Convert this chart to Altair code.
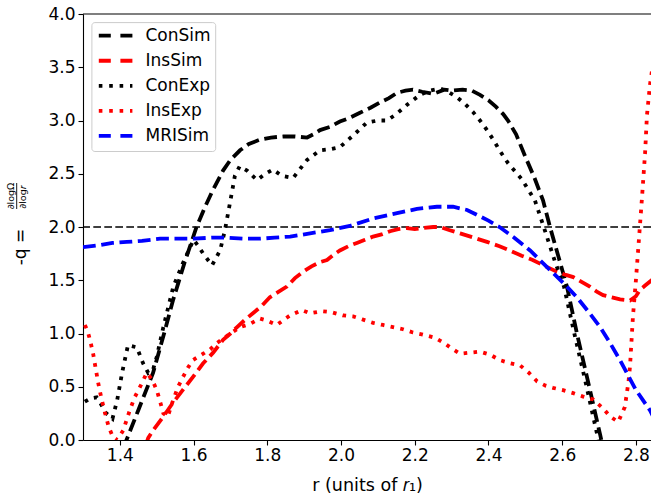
import altair as alt
import pandas as pd

# ---- data ----
series_names = ["ConSim", "InsSim", "ConExp", "InsExp", "MRISim"]
series_colors = ["black", "red", "black", "red", "blue"]

consim = [(1.41,-0.08),(1.418,0.0),(1.45,0.28),(1.49,0.63),(1.52,1.0),(1.544,1.31),(1.575,1.66),
          (1.608,2.0),(1.63,2.18),(1.65,2.33),(1.68,2.53),(1.70,2.63),(1.726,2.72),(1.75,2.78),
          (1.78,2.82),(1.81,2.84),(1.843,2.85),(1.875,2.85),(1.908,2.84),(1.925,2.87),(1.943,2.91),
          (1.97,2.94),(1.997,2.99),(2.02,3.02),(2.05,3.07),(2.08,3.12),(2.106,3.17),(2.13,3.21),
          (2.152,3.26),(2.175,3.28),(2.195,3.29),(2.22,3.27),(2.25,3.25),(2.28,3.29),(2.30,3.28),
          (2.33,3.29),(2.355,3.28),(2.377,3.24),(2.40,3.19),(2.42,3.13),(2.44,3.06),(2.453,3.0),
          (2.475,2.87),(2.50,2.66),(2.525,2.46),(2.548,2.25),(2.567,2.0),(2.59,1.72),(2.613,1.44),
          (2.64,1.0),(2.67,0.55),(2.703,0.05),(2.71,-0.06)]

inssim = [(1.47,-0.05),(1.477,0.02),(1.49,0.09),(1.518,0.22),(1.544,0.35),(1.571,0.47),(1.598,0.59),
          (1.626,0.72),(1.653,0.82),(1.68,0.94),(1.70,1.0),(1.718,1.06),(1.74,1.13),(1.761,1.19),
          (1.785,1.26),(1.807,1.34),(1.83,1.39),(1.853,1.44),(1.875,1.52),(1.897,1.58),(1.92,1.63),
          (1.943,1.67),(1.962,1.69),(1.98,1.74),(1.997,1.78),(2.02,1.82),(2.043,1.85),(2.065,1.88),
          (2.087,1.91),(2.11,1.93),(2.133,1.96),(2.155,1.98),(2.179,1.99),(2.2,1.98),(2.223,1.99),
          (2.25,2.0),(2.269,2.0),(2.295,1.97),(2.323,1.94),(2.36,1.9),(2.396,1.86),(2.43,1.82),
          (2.458,1.78),(2.49,1.73),(2.52,1.69),(2.555,1.63),(2.586,1.58),(2.61,1.55),(2.63,1.53),
          (2.655,1.48),(2.675,1.44),(2.695,1.39),(2.711,1.36),(2.735,1.34),(2.757,1.32),(2.784,1.31),
          (2.80,1.35),(2.811,1.41),(2.825,1.45),(2.85,1.52)]

conexp = [(1.305,0.36),(1.32,0.39),(1.337,0.40),(1.35,0.33),(1.36,0.26),(1.38,0.20),(1.393,0.38),
          (1.406,0.63),(1.422,0.89),(1.446,0.87),(1.463,0.72),(1.477,0.63),(1.49,0.66),(1.50,0.78),
          (1.518,1.06),(1.545,1.44),(1.571,1.66),(1.60,1.88),(1.613,1.82),(1.626,1.75),(1.65,1.64),
          (1.672,1.78),(1.685,1.97),(1.70,2.25),(1.712,2.48),(1.725,2.57),(1.745,2.53),(1.772,2.44),
          (1.795,2.50),(1.815,2.54),(1.84,2.48),(1.87,2.46),(1.89,2.55),(1.908,2.63),(1.943,2.72),
          (1.97,2.73),(1.997,2.75),(2.033,2.86),(2.07,2.98),(2.1,3.0),(2.125,3.0),(2.15,3.06),
          (2.18,3.15),(2.214,3.24),(2.24,3.28),(2.27,3.30),(2.29,3.27),(2.314,3.22),(2.335,3.16),
          (2.358,3.08),(2.377,3.0),(2.396,2.91),(2.413,2.82),(2.43,2.72),(2.453,2.60),(2.49,2.45),
          (2.526,2.25),(2.55,2.0),(2.58,1.68),(2.605,1.44),(2.633,1.0),(2.663,0.55),(2.695,0.05),
          (2.70,-0.03)]

insexp = [(1.305,1.08),(1.312,1.03),(1.319,0.94),(1.327,0.82),(1.334,0.68),(1.341,0.54),(1.35,0.39),
          (1.36,0.25),(1.37,0.12),(1.381,0.03),(1.393,0.0),(1.409,0.09),(1.427,0.28),(1.44,0.40),
          (1.455,0.50),(1.473,0.63),(1.487,0.57),(1.50,0.47),(1.51,0.35),(1.518,0.25),(1.53,0.22),
          (1.545,0.38),(1.558,0.50),(1.571,0.59),(1.585,0.68),(1.598,0.75),(1.626,0.81),(1.645,0.85),
          (1.663,0.91),(1.7,1.0),(1.726,1.06),(1.753,1.09),(1.78,1.14),(1.80,1.12),(1.826,1.08),
          (1.845,1.13),(1.862,1.17),(1.894,1.22),(1.916,1.19),(1.948,1.21),(1.975,1.20),(2.005,1.17),
          (2.033,1.16),(2.06,1.13),(2.087,1.10),(2.114,1.08),(2.141,1.06),(2.168,1.04),(2.195,1.01),
          (2.222,0.99),(2.255,0.96),(2.28,0.91),(2.3,0.86),(2.323,0.81),(2.35,0.82),(2.377,0.83),
          (2.405,0.80),(2.431,0.75),(2.46,0.72),(2.486,0.70),(2.51,0.63),(2.532,0.55),(2.555,0.51),
          (2.575,0.49),(2.6,0.47),(2.63,0.44),(2.655,0.41),(2.684,0.38),(2.71,0.30),(2.73,0.22),
          (2.752,0.17),(2.77,0.31),(2.78,0.55),(2.784,0.69),(2.792,1.16),(2.80,1.5),(2.806,1.78),
          (2.816,2.25),(2.825,2.7),(2.83,3.05),(2.838,3.33),(2.845,3.5)]

mrisim = [(1.30,1.81),(1.346,1.83),(1.38,1.85),(1.419,1.86),(1.46,1.87),(1.509,1.89),(1.55,1.89),
          (1.6,1.89),(1.65,1.90),(1.69,1.90),(1.74,1.89),(1.78,1.89),(1.82,1.90),(1.862,1.91),
          (1.916,1.94),(1.97,1.97),(2.024,2.01),(2.087,2.08),(2.152,2.13),(2.206,2.17),(2.26,2.19),
          (2.304,2.19),(2.342,2.16),(2.377,2.10),(2.40,2.06),(2.43,2.0),(2.47,1.90),(2.513,1.78),
          (2.545,1.67),(2.575,1.57),(2.61,1.45),(2.64,1.34),(2.67,1.21),(2.703,1.06),(2.73,0.91),
          (2.757,0.75),(2.78,0.60),(2.80,0.47),(2.82,0.37),(2.838,0.28),(2.85,0.20)]

reference_level = [2.0]
x_ticks = [1.4, 1.6, 1.8, 2.0, 2.2, 2.4, 2.6, 2.8]
y_ticks = [0.0, 0.5, 1.0, 1.5, 2.0, 2.5, 3.0, 3.5, 4.0]

# ---- styles ----
DASH = [12.8, 5.6]
DOT = [3.6, 6.3]
series_dash = [DASH, DASH, DOT, DOT, DASH]
legend_dash = [[12, 9.6], [12, 9.6], [3.6, 6.8], [3.6, 6.8], [12, 9.6]]
FONT = "DejaVu Sans"
FS = 17
W, H = 568, 426
LW = 3.8

rows = []
for name, pts in zip(series_names, [consim, inssim, conexp, insexp, mrisim]):
    for i, (r, v) in enumerate(pts):
        rows.append({"series": name, "r": r, "v": v, "i": i})
df = pd.DataFrame(rows)

xscale = alt.Scale(domain=[1.3, 1.3 + W / 368.6], nice=False, zero=False)
yscale = alt.Scale(domain=[0, 4], nice=False, zero=False)

common = dict(grid=False, labelFont=FONT, labelFontSize=FS, labelColor="black",
              tickColor="black", domainColor="black", tickSize=5, tickWidth=1.1,
              domainWidth=1.1)
xaxis = alt.Axis(values=x_ticks, format=".1f", title="r (units of 𝑟₁)", titleFontSize=17.5,
                 titleFontWeight="normal", titleFont=FONT, titleColor="black", titlePadding=13,
                 labelPadding=2, **common)
yaxis = alt.Axis(values=y_ticks, format=".1f", title=None, labelPadding=3, **common)

lines = alt.Chart(df).mark_line(strokeWidth=LW, clip=True).encode(
    x=alt.X("r:Q", scale=xscale, axis=xaxis),
    y=alt.Y("v:Q", scale=yscale, axis=yaxis),
    color=alt.Color("series:N", scale=alt.Scale(domain=series_names, range=series_colors), legend=None),
    strokeDash=alt.StrokeDash("series:N", scale=alt.Scale(domain=series_names, range=series_dash), legend=None),
    detail="series:N",
    order="i:Q",
)

hline = alt.Chart(pd.DataFrame({"y": reference_level})).mark_rule(
    color="black", strokeWidth=1.6, strokeDash=[7.7, 3.3]
).encode(y=alt.Y("y:Q", scale=yscale))

one = pd.DataFrame({"a": [0]})
top_spine = alt.Chart(one).mark_rule(color="black", strokeWidth=1.1).encode(
    x=alt.value(0), x2=alt.value(W + 2), y=alt.value(0))

# legend
legend_layers = [alt.Chart(one).mark_rect(fill="white", fillOpacity=0.8, stroke="#cccccc",
                                          strokeWidth=1, cornerRadius=3).encode(
    x=alt.value(8.9), x2=alt.value(132.7), y=alt.value(8.6), y2=alt.value(137.5))]
for k, (name, col, dash) in enumerate(zip(series_names, series_colors, legend_dash)):
    yy = 21.7 + 25.05 * k
    legend_layers.append(alt.Chart(one).mark_rule(color=col, strokeWidth=LW, strokeDash=dash).encode(
        x=alt.value(15.8), x2=alt.value(49.4), y=alt.value(yy)))
    legend_layers.append(alt.Chart(one).mark_text(text=name, font=FONT, fontSize=FS, color="black",
                                                  align="left", baseline="middle").encode(
        x=alt.value(62.5), y=alt.value(yy + 0.5)))

# y-axis title drawn as a stacked fraction
ylab = [
    alt.Chart(one).mark_text(text="-q =", font=FONT, fontSize=FS, angle=270, align="center",
                             baseline="middle", color="black").encode(x=alt.value(-62), y=alt.value(233)),
    alt.Chart(one).mark_text(text="∂logΩ", font=FONT, fontSize=9.5, angle=270, align="center",
                             baseline="middle", color="black").encode(x=alt.value(-72.5), y=alt.value(182)),
    alt.Chart(one).mark_text(text="∂log𝑟", font=FONT, fontSize=9.5, angle=270, align="center",
                             baseline="middle", color="black").encode(x=alt.value(-60.3), y=alt.value(183)),
    alt.Chart(one).mark_rule(color="black", strokeWidth=0.9).encode(
        x=alt.value(-66.3), y=alt.value(169), y2=alt.value(195)),
]

chart = alt.layer(hline, lines, top_spine, *legend_layers, *ylab).properties(
    width=W, height=H,
    background="white",
    autosize=alt.AutoSizeParams(type="none"),
    padding={"left": 83, "top": 14, "right": 0, "bottom": 58},
).configure_view(stroke=None)

chart.save("out.html", embed_options={"renderer": "svg", "actions": False})
